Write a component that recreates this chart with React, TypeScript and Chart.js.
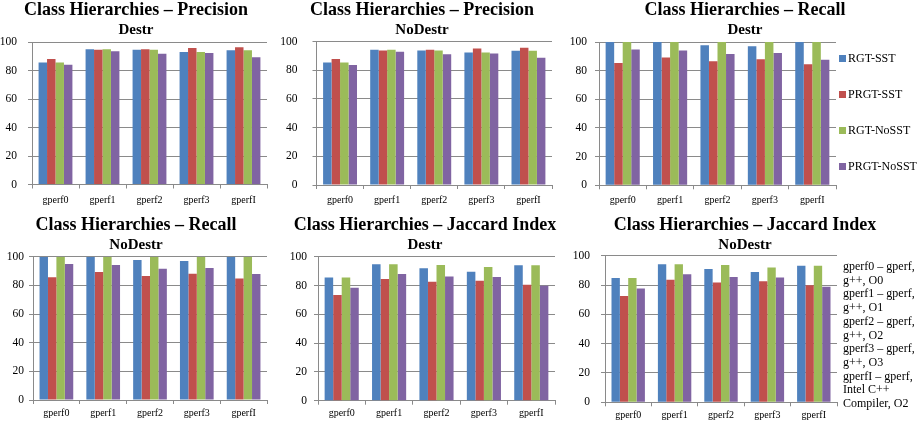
import React, { useEffect, useRef } from 'react';
import { Chart, registerables } from 'chart.js';

Chart.register(...registerables);

const FONT = "'Liberation Serif', 'Times New Roman', serif";

const CATEGORIES = ['gperf0', 'gperf1', 'gperf2', 'gperf3', 'gperfI'];
const SERIES = ['RGT-SST', 'PRGT-SST', 'RGT-NoSST', 'PRGT-NoSST'];
const COLORS = ['#4F81BD', '#C0504D', '#9BBB59', '#8064A2'];
const Y_MIN = 0;
const Y_MAX = 100;
const Y_STEP = 20;

// rows: RGT-SST, PRGT-SST, RGT-NoSST, PRGT-NoSST ; columns: CATEGORIES
const PRECISION_DESTR = [
  [85.6, 94.9, 94.6, 93.0, 94.2],
  [88.0, 94.6, 94.9, 95.8, 96.3],
  [85.6, 94.9, 94.6, 93.0, 94.2],
  [84.0, 93.5, 91.8, 92.3, 89.3],
];
const PRECISION_NODESTR = [
  [85.3, 94.2, 93.8, 92.4, 93.5],
  [87.8, 93.8, 94.2, 95.2, 95.6],
  [85.3, 94.2, 93.8, 92.4, 93.5],
  [83.6, 92.9, 91.2, 91.7, 88.7],
];
const RECALL_DESTR = [
  [100, 100, 97.7, 97.0, 100],
  [85.4, 89.1, 86.5, 87.9, 84.5],
  [100, 100, 100, 100, 100],
  [94.7, 94.0, 91.6, 92.3, 87.7],
];
const RECALL_NODESTR = [
  [100, 100, 97.7, 97.0, 100],
  [85.6, 89.3, 86.5, 88.1, 84.7],
  [100, 100, 100, 100, 100],
  [94.9, 94.2, 91.6, 92.1, 87.9],
];
const JACCARD_DESTR = [
  [85.6, 94.7, 91.9, 89.6, 94.0],
  [73.4, 84.5, 82.6, 83.3, 80.6],
  [85.6, 94.7, 94.2, 92.8, 94.0],
  [78.5, 88.0, 86.3, 85.9, 79.9],
];
const JACCARD_NODESTR = [
  [84.8, 94.1, 90.9, 88.9, 93.2],
  [72.5, 83.6, 81.8, 82.5, 79.8],
  [84.8, 94.1, 93.6, 92.0, 93.2],
  [77.7, 87.3, 85.5, 85.2, 78.9],
];

const NOTE_LINES = [
  'gperf0 – gperf,',
  'g++, O0',
  'gperf1 – gperf,',
  'g++, O1',
  'gperf2 – gperf,',
  'g++, O2',
  'gperf3 – gperf,',
  'g++, O3',
  'gperfI – gperf,',
  'Intel C++',
  'Compiler, O2',
];

const GRID = '#8A8A8A';

type PanelCfg = {
  title: string;
  subtitle: string;
  data: number[][];
  left: number;
  top: number;
  width: number;
  height: number;
  plotLeft: number;
  plotRight: number;
  plotTop: number;
  plotBottom: number;
  labelGap: number;
  xLabelPad: number;
};

const PANELS: PanelCfg[] = [
  { title: 'Class Hierarchies – Precision', subtitle: 'Destr', data: PRECISION_DESTR,
    left: 0, top: 0, width: 272, height: 213, plotLeft: 32, plotRight: 267, plotTop: 42, plotBottom: 184.5, labelGap: 15, xLabelPad: 5.5 },
  { title: 'Class Hierarchies – Precision', subtitle: 'NoDestr', data: PRECISION_NODESTR,
    left: 280, top: 0, width: 284, height: 213, plotLeft: 316.5, plotRight: 552, plotTop: 41.5, plotBottom: 185, labelGap: 19, xLabelPad: 5.5 },
  { title: 'Class Hierarchies – Recall', subtitle: 'Destr', data: RECALL_DESTR,
    left: 570, top: 0, width: 350, height: 213, plotLeft: 599, plotRight: 836, plotTop: 42, plotBottom: 185.3, labelGap: 12, xLabelPad: 5.5 },
  { title: 'Class Hierarchies – Recall', subtitle: 'NoDestr', data: RECALL_NODESTR,
    left: 0, top: 215, width: 272, height: 210, plotLeft: 33, plotRight: 267, plotTop: 256.7, plotBottom: 400, labelGap: 9, xLabelPad: 3 },
  { title: 'Class Hierarchies – Jaccard Index', subtitle: 'Destr', data: JACCARD_DESTR,
    left: 283, top: 215, width: 284, height: 210, plotLeft: 318, plotRight: 555, plotTop: 256.7, plotBottom: 400.7, labelGap: 11, xLabelPad: 3 },
  { title: 'Class Hierarchies – Jaccard Index', subtitle: 'NoDestr', data: JACCARD_NODESTR,
    left: 570, top: 215, width: 350, height: 210, plotLeft: 605, plotRight: 837, plotTop: 255.7, plotBottom: 402.3, labelGap: 15, xLabelPad: 3 },
];

const X_AXIS_H = 24;
const TICK_LEN = 4;

function Panel({ cfg }: { cfg: PanelCfg }) {
  const ref = useRef<HTMLCanvasElement>(null);
  useEffect(() => {
    const canvas = ref.current;
    if (!canvas) return;
    const plotL = cfg.plotLeft - cfg.left;
    const plotR = cfg.plotRight - cfg.left;
    const plotT = cfg.plotTop - cfg.top;
    const plotB = cfg.plotBottom - cfg.top;
    const titleH = 18 * 1.2;
    const subH = 15 * 1.2;
    const chart = new Chart(canvas, {
      type: 'bar',
      data: {
        labels: CATEGORIES,
        datasets: SERIES.map((name, i) => ({
          label: name,
          data: cfg.data[i],
          backgroundColor: COLORS[i],
          borderWidth: 0,
          categoryPercentage: 0.72,
          barPercentage: 1,
        })),
      },
      options: {
        responsive: false,
        animation: false,
        events: [],
        layout: { padding: { left: 0, right: 0, top: 0, bottom: cfg.height - plotB - X_AXIS_H } },
        plugins: {
          legend: { display: false },
          tooltip: { enabled: false },
          title: {
            display: true,
            text: cfg.title,
            color: '#000',
            font: { family: FONT, size: 18, weight: 'bold', lineHeight: 1.2 },
            padding: { top: 0, bottom: 0 },
          },
          subtitle: {
            display: true,
            text: cfg.subtitle,
            color: '#000',
            font: { family: FONT, size: 15, weight: 'bold', lineHeight: 1.2 },
            padding: { top: 0, bottom: Math.max(0, plotT - titleH - subH) },
          },
        },
        scales: {
          x: {
            type: 'category',
            offset: true,
            grid: { display: true, drawOnChartArea: false, drawTicks: true, tickLength: TICK_LEN, color: GRID, offset: true },
            border: { display: true, color: GRID, width: 1 },
            ticks: { color: '#000', font: { family: FONT, size: 10 }, padding: cfg.xLabelPad, maxRotation: 0, autoSkip: false },
            afterFit: (a: any) => { a.height = X_AXIS_H; },
          },
          y: {
            type: 'linear',
            min: Y_MIN,
            max: Y_MAX,
            grid: { display: true, drawOnChartArea: true, drawTicks: true, tickLength: TICK_LEN, color: GRID, lineWidth: 1 },
            border: { display: true, color: GRID, width: 1 },
            ticks: { stepSize: Y_STEP, color: '#000', font: { family: FONT, size: 11.5 }, padding: Math.max(0, cfg.labelGap - TICK_LEN) },
            afterFit: (a: any) => { a.width = plotL; },
          },
          pad: {
            type: 'linear',
            position: 'right',
            display: true,
            grid: { display: false, drawOnChartArea: false },
            border: { display: false },
            ticks: { display: false },
            afterFit: (a: any) => { a.width = cfg.width - plotR; },
          },
        },
      } as any,
    });
    return () => chart.destroy();
  }, [cfg]);
  return (
    <canvas
      ref={ref}
      width={cfg.width}
      height={cfg.height}
      style={{ position: 'absolute', left: cfg.left, top: cfg.top, width: cfg.width, height: cfg.height, display: 'block' }}
    />
  );
}

const LEGEND_Y = [58, 94, 130, 166];

export default function App() {
  return (
    <div style={{ position: 'absolute', left: 0, top: 0, width: 921, height: 425, background: '#fff', overflow: 'hidden', fontFamily: FONT }}>
      {PANELS.map((p, i) => <Panel key={i} cfg={p} />)}
      {SERIES.map((name, i) => (
        <div key={name} style={{ position: 'absolute', left: 839, top: LEGEND_Y[i] - 8, height: 16, display: 'flex', alignItems: 'center', fontSize: 12, color: '#000', whiteSpace: 'nowrap' }}>
          <span style={{ display: 'inline-block', width: 7, height: 7, background: COLORS[i], marginRight: 2 }} />
          <span>{name}</span>
        </div>
      ))}
      <div style={{ position: 'absolute', left: 843, top: 260, fontSize: 12, lineHeight: '13.7px', color: '#000', whiteSpace: 'nowrap' }}>
        {NOTE_LINES.map((l, i) => <div key={i}>{l}</div>)}
      </div>
    </div>
  );
}
